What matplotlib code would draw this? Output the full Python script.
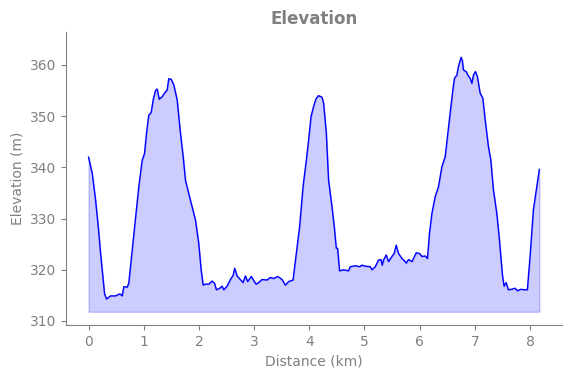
import matplotlib
matplotlib.use('Agg')
import matplotlib.pyplot as plt

# distance (km) and elevation (m)
distance_km = [
    0.00, 0.067, 0.127, 0.176, 0.217, 0.266, 0.29, 0.326, 0.398, 0.489,
    0.567, 0.61, 0.639, 0.70, 0.729, 0.791, 0.851, 0.91, 0.972, 1.014,
    1.05, 1.091, 1.135, 1.171, 1.213, 1.243, 1.28, 1.334, 1.376, 1.424,
    1.453, 1.497, 1.544, 1.605, 1.665, 1.714, 1.756, 1.815, 1.877, 1.937,
    1.996, 2.04, 2.076, 2.118, 2.177, 2.239, 2.281, 2.317, 2.376, 2.42,
    2.449, 2.51, 2.57, 2.619, 2.648, 2.691, 2.751, 2.80, 2.842, 2.883,
    2.95, 2.992, 3.035, 3.082, 3.144, 3.234, 3.294, 3.354, 3.426, 3.506,
    3.566, 3.625, 3.705, 3.765, 3.824, 3.886, 3.946, 3.987, 4.031, 4.078,
    4.121, 4.168, 4.23, 4.259, 4.308, 4.349, 4.411, 4.452, 4.489, 4.512,
    4.548, 4.621, 4.711, 4.742, 4.833, 4.91, 4.954, 5.014, 5.104, 5.135,
    5.195, 5.254, 5.298, 5.321, 5.345, 5.394, 5.435, 5.497, 5.538, 5.575,
    5.616, 5.678, 5.72, 5.756, 5.797, 5.859, 5.937, 5.996, 6.04, 6.10,
    6.141, 6.177, 6.221, 6.281, 6.34, 6.402, 6.462, 6.503, 6.552, 6.601,
    6.63, 6.673, 6.702, 6.751, 6.775, 6.793, 6.842, 6.883, 6.914, 6.945,
    6.974, 7.01, 7.046, 7.095, 7.144, 7.186, 7.245, 7.289, 7.336, 7.397,
    7.445, 7.499, 7.529, 7.566, 7.607, 7.669, 7.729, 7.77, 7.832, 7.891,
    7.951, 8.00, 8.06, 8.121, 8.168,
]
elevation_m = [
    342.0, 338.8, 333.6, 328.4, 323.3, 318.0, 315.3, 314.3, 314.9, 314.9,
    315.3, 314.9, 316.7, 316.6, 317.4, 323.9, 330.4, 336.2, 341.4, 342.7,
    346.7, 350.2, 350.7, 353.2, 355.0, 355.3, 353.3, 353.8, 354.5, 355.1,
    357.3, 357.2, 356.1, 353.2, 346.7, 342.1, 337.5, 334.9, 332.3, 329.7,
    325.2, 320.0, 317.0, 317.2, 317.2, 317.8, 317.4, 316.1, 316.4, 316.8,
    316.1, 316.8, 318.1, 318.9, 320.3, 318.8, 318.1, 317.5, 318.8, 317.7,
    318.7, 317.9, 317.2, 317.5, 318.1, 318.0, 318.5, 318.3, 318.7, 318.1,
    317.0, 317.7, 318.0, 323.2, 328.4, 336.2, 341.4, 345.3, 349.9, 351.9,
    353.4, 354.0, 353.7, 352.5, 346.7, 337.5, 332.3, 328.4, 324.2, 324.2,
    319.8, 320.0, 319.8, 320.6, 320.8, 320.6, 320.9, 320.7, 320.6, 320.0,
    320.6, 321.9, 322.0, 320.9, 321.9, 322.9, 321.6, 322.6, 323.2, 324.8,
    323.2, 322.2, 321.8, 321.3, 322.0, 321.6, 323.3, 323.2, 322.6, 322.7,
    322.2, 327.1, 331.0, 334.3, 336.2, 340.1, 342.1, 346.0, 350.6, 355.1,
    357.4, 358.0, 359.7, 361.5, 360.7, 359.0, 358.7, 357.8, 357.4, 356.4,
    358.0, 358.7, 357.7, 354.5, 353.5, 349.3, 344.1, 341.4, 335.6, 331.0,
    325.8, 319.0, 316.8, 317.5, 316.1, 316.2, 316.4, 315.9, 316.2, 316.1,
    316.1, 322.6, 331.7, 336.2, 339.6,
]
base_m = 311.8  # floor of the shaded area

fig = plt.figure(figsize=(5.71, 3.78), dpi=100)
ax = fig.add_axes([0.1156, 0.140, 0.8684, 0.775])

ax.fill_between(distance_km, elevation_m, base_m, color='blue', alpha=0.2)
ax.plot(distance_km, elevation_m, color='blue', linewidth=1)

ax.set_ylim(309.2, 366.4)
ax.set_yticks([310, 320, 330, 340, 350, 360])
ax.set_xticks(range(0, 9))

ax.set_title('Elevation', fontsize=12, fontweight='bold', color='grey')
ax.set_xlabel('Distance (km)', color='grey')
ax.set_ylabel('Elevation (m)', color='grey')

ax.spines['top'].set_visible(False)
ax.spines['right'].set_visible(False)
ax.spines['left'].set_color('grey')
ax.spines['bottom'].set_color('grey')
ax.tick_params(colors='grey')

fig.savefig('out.png', dpi=100)
